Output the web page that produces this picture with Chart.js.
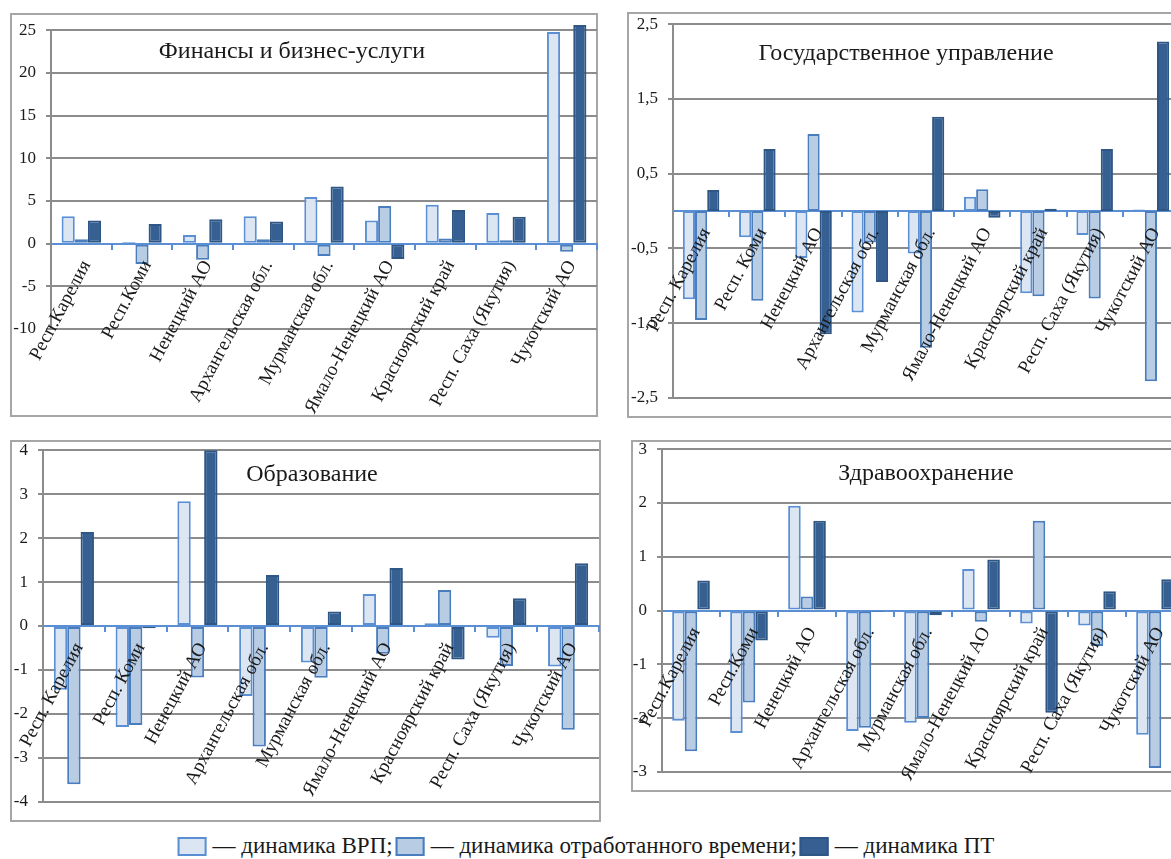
<!DOCTYPE html>
<html lang="ru">
<head>
<meta charset="utf-8">
<script src="https://cdn.jsdelivr.net/npm/chart.js@4.4.1/dist/chart.umd.min.js"></script>
<style>
  html, body { margin: 0; padding: 0; background: #fff; overflow: hidden; }
  #page { position: relative; width: 1171px; height: 859px; overflow: hidden; font-family: "Liberation Serif", "Times New Roman", Times, "DejaVu Serif", "Noto Serif", serif; color: #1a1a1a; }
  .frame { position: absolute; border: 2px solid #a6a6a6; box-sizing: border-box; }
  canvas { position: absolute; }
  .title { position: absolute; font-size: 24px; transform: translate(-50%, -50%); white-space: nowrap; }
  #legend { position: absolute; left: 586px; top: 846px; transform: translate(-50%, -50%); font-size: 23px; display: flex; align-items: center; white-space: nowrap; }
  .sw { display: inline-block; width: 29px; height: 19px; box-sizing: border-box; border: 2px solid; margin-right: 6px; }
</style>
</head>
<body>
<div id="page">
  <div id="legend"></div>
</div>
<script>
const regionsA = ["Респ.Карелия", "Респ.Коми", "Ненецкий АО", "Архангельская обл.", "Мурманская обл.",
  "Ямало-Ненецкий АО", "Красноярский край", "Респ. Саха (Якутия)", "Чукотский АО"];
const regionsB = ["Респ. Карелия", "Респ. Коми", "Ненецкий АО", "Архангельская обл.", "Мурманская обл.",
  "Ямало-Ненецкий АО", "Красноярский край", "Респ. Саха (Якутия)", "Чукотский АО"];
const seriesNames = ["динамика ВРП", "динамика отработанного времени", "динамика ПТ"];

// Финансы и бизнес-услуги
const finVrp = [3.2, 0.2, 1.0, 3.2, 5.45, 2.7, 4.55, 3.6, 24.8];
const finTime = [0.5, -2.4, -1.9, 0.5, -1.45, 4.4, 0.6, 0.4, -0.95];
const finPt = [2.7, 2.3, 2.85, 2.6, 6.7, -1.8, 3.95, 3.15, 25.6];
const finTicks = [-10, -5, 0, 5, 10, 15, 20, 25];

// Государственное управление
const govVrp = [-1.18, -0.35, -0.63, -1.36, -0.57, 0.19, -1.1, -0.32, 0.02];
const govTime = [-1.46, -1.2, 1.03, -0.42, -1.83, 0.29, -1.14, -1.17, -2.28];
const govPt = [0.28, 0.83, -1.65, -0.95, 1.26, -0.09, 0.03, 0.83, 2.27];
const govTicks = [-2.5, -1.5, -0.5, 0.5, 1.5, 2.5];

// Образование
const eduVrp = [-1.45, -2.3, 2.84, -1.59, -0.83, 0.73, 0.06, -0.27, -0.92];
const eduTime = [-3.6, -2.25, -1.17, -2.74, -1.18, -0.63, 0.82, -0.91, -2.36];
const eduPt = [2.14, -0.05, 4.0, 1.16, 0.33, 1.32, -0.76, 0.63, 1.43];
const eduTicks = [-4, -3, -2, -1, 0, 1, 2, 3, 4];

// Здравоохранение
const hlthVrp = [-2.05, -2.28, 1.95, -2.24, -2.09, 0.77, -0.24, -0.28, -2.31];
const hlthTime = [-2.62, -1.71, 0.26, -2.18, -2.0, -0.21, 1.67, -0.66, -2.93];
const hlthPt = [0.56, -0.56, 1.67, -0.03, -0.09, 0.95, -1.9, 0.36, 0.58];
const hlthTicks = [-3, -2, -1, 0, 1, 2, 3];

const fills = ["#dce6f2", "#b8cce4", "#376092"];
const edges = ["#5b8fd4", "#4a7dbd", "#2e5786"];
const gridGray = "#8c8c8c";
const zeroBlue = "#5b8fd4";
const serifStack = "'Liberation Serif', 'Times New Roman', Times, 'DejaVu Serif', 'Noto Serif', serif";

// frame: [left, top, right, bottom]; area: plot box [left, top, right, bottom]
const panels = [
  { title: "Финансы и бизнес-услуги", labels: regionsA, series: [finVrp, finTime, finPt], ticks: finTicks,
    frame: [10, 13, 598, 417], area: [51, 30, 597, 329], titleAt: [292, 50] },
  { title: "Государственное управление", labels: regionsB, series: [govVrp, govTime, govPt], ticks: govTicks,
    frame: [627, 12, 1200, 418], area: [673, 24, 1179, 404], titleAt: [906, 52] },
  { title: "Образование", labels: regionsB, series: [eduVrp, eduTime, eduPt], ticks: eduTicks,
    frame: [10, 440, 601, 822], area: [43, 450, 599, 809], titleAt: [312, 473] },
  { title: "Здравоохранение", labels: regionsA, series: [hlthVrp, hlthTime, hlthPt], ticks: hlthTicks,
    frame: [631, 440, 1200, 792], area: [662, 449, 1184, 780], titleAt: [926, 472] }
];

const page = document.getElementById("page");
Chart.defaults.font.family = serifStack;
Chart.defaults.color = "#1a1a1a";

panels.forEach((p) => {
  const [fl, ft, fr, fb] = p.frame;
  const [al, at, ar, ab] = p.area;

  const frame = document.createElement("div");
  frame.className = "frame";
  frame.style.left = fl + "px";
  frame.style.top = ft + "px";
  frame.style.width = (fr - fl) + "px";
  frame.style.height = (fb - ft) + "px";
  page.appendChild(frame);

  const cx = al - 50, cy = at - 20;
  const cw = ar + 10 - cx, ch = fb - cy;
  const canvas = document.createElement("canvas");
  canvas.width = cw;
  canvas.height = ch;
  canvas.style.left = cx + "px";
  canvas.style.top = cy + "px";
  canvas.style.width = cw + "px";
  canvas.style.height = ch + "px";
  page.appendChild(canvas);

  const title = document.createElement("div");
  title.className = "title";
  title.textContent = p.title;
  title.style.left = p.titleAt[0] + "px";
  title.style.top = p.titleAt[1] + "px";
  page.appendChild(title);

  new Chart(canvas.getContext("2d"), {
    type: "bar",
    data: {
      labels: p.labels,
      datasets: p.series.map((vals, i) => ({
        label: seriesNames[i],
        data: vals,
        backgroundColor: fills[i],
        borderColor: edges[i],
        borderWidth: 2,
        borderSkipped: false,
        categoryPercentage: 0.65,
        barPercentage: 1,
        clip: false
      }))
    },
    options: {
      responsive: false,
      animation: false,
      layout: { padding: { left: 5, top: 20, right: 10, bottom: fb - ab } },
      plugins: { legend: { display: false }, tooltip: { enabled: false }, title: { display: false } },
      scales: {
        x: {
          position: { y: 0 },
          offset: true,
          grid: { display: true, drawOnChartArea: false, drawTicks: true, tickLength: 5, color: zeroBlue, lineWidth: 2, offset: true },
          border: { display: true, color: zeroBlue, width: 2 },
          ticks: { autoSkip: false, minRotation: 62, maxRotation: 62, padding: 8, labelOffset: 5, font: { size: 19 }, z: 1 }
        },
        y: {
          min: p.ticks[0],
          max: p.ticks[p.ticks.length - 1],
          afterFit: (s) => { s.width = 45; },
          afterBuildTicks: (s) => { s.ticks = p.ticks.map((v) => ({ value: v })); },
          grid: { color: gridGray, lineWidth: 2, drawTicks: true, tickLength: 5 },
          border: { display: true, color: gridGray, width: 2 },
          ticks: { padding: 10, font: { size: 17 }, callback: (v) => String(v).replace(".", ",") }
        }
      }
    }
  });
});

const legendEl = document.getElementById("legend");
seriesNames.forEach((name, i) => {
  const sw = document.createElement("span");
  sw.className = "sw";
  sw.style.background = fills[i];
  sw.style.borderColor = edges[i];
  if (i > 0) sw.style.marginLeft = "3px";
  legendEl.appendChild(sw);
  const txt = document.createElement("span");
  txt.textContent = "— " + name + (i < seriesNames.length - 1 ? ";" : "");
  legendEl.appendChild(txt);
});
</script>
</body>
</html>
